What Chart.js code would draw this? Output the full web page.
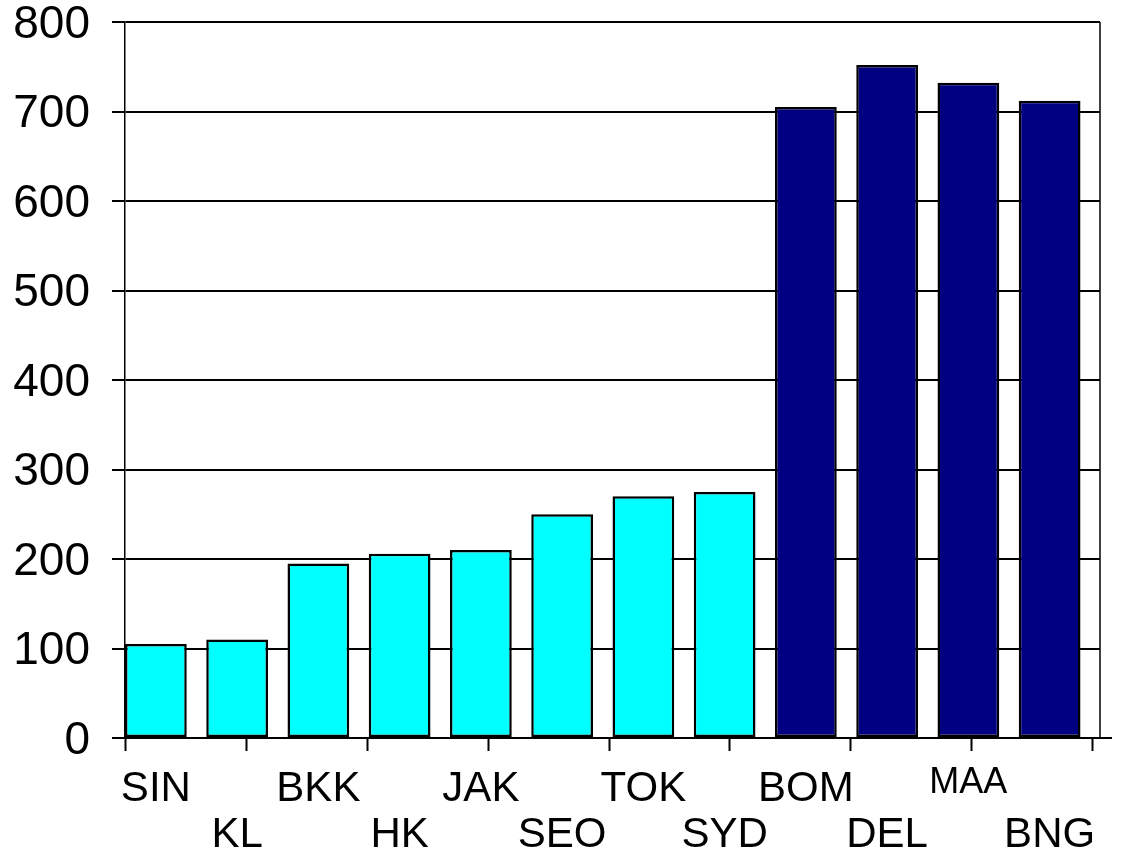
<!DOCTYPE html>
<html>
<head>
<meta charset="utf-8">
<script src="https://cdn.jsdelivr.net/npm/chart.js@4"></script>
<style>
  html, body { margin: 0; padding: 0; background: #fff; }
  #wrap { width: 1130px; height: 852px; }
</style>
</head>
<body>
<div id="wrap"><canvas id="cities-chart"></canvas></div>
<script>
const cities = ['SIN', 'KL', 'BKK', 'HK', 'JAK', 'SEO', 'TOK', 'SYD', 'BOM', 'DEL', 'MAA', 'BNG'];
const values = [105, 110, 195, 206, 210, 250, 270, 275, 705, 752, 732, 712];
const groups = ['asia', 'asia', 'asia', 'asia', 'asia', 'asia', 'asia', 'asia', 'india', 'india', 'india', 'india'];
const yTicks = [0, 100, 200, 300, 400, 500, 600, 700, 800];

const groupColor = { asia: '#00FFFF', india: '#000080' };

// labels alternate between two rows
const rowLabel = (i) => (i % 2 === 0 ? [cities[i], ''] : ['', cities[i]]);

// extra axis marks: baseline overhang, right frame line, bottom tick marks
const framePlugin = {
  id: 'frame',
  afterDraw(chart) {
    const { ctx, chartArea } = chart;
    const { left, right, top, bottom } = chartArea;
    ctx.save();
    ctx.strokeStyle = '#000';
    ctx.lineWidth = 1.5;
    ctx.beginPath();
    ctx.moveTo(right, top);
    ctx.lineTo(right, bottom);
    ctx.stroke();
    ctx.lineWidth = 2;
    ctx.beginPath();
    ctx.moveTo(left - 13, bottom);
    ctx.lineTo(right + 12, bottom);
    ctx.stroke();
    const n = 8;
    const step = (right - 8 - left) / n;
    for (let k = 0; k <= n; k++) {
      const x = Math.round(left + k * step) + 0.5;
      ctx.beginPath();
      ctx.moveTo(x, bottom);
      ctx.lineTo(x, bottom + 13);
      ctx.stroke();
    }
    ctx.restore();
  }
};

const ctx = document.getElementById('cities-chart');
new Chart(ctx, {
  type: 'bar',
  data: {
    datasets: [
      {
        data: values.map((v, i) => ({ x: i, y: v })),
        backgroundColor: groups.map((g) => groupColor[g]),
        borderColor: '#000',
        borderWidth: 2.5,
        borderSkipped: false,
        barPercentage: 0.76,
        categoryPercentage: 1.0,
      },
    ],
  },
  options: {
    responsive: true,
    maintainAspectRatio: false,
    animation: false,
    devicePixelRatio: 1,
    layout: { padding: { top: 22, right: 30, left: 0, bottom: 0 } },
    plugins: {
      legend: { display: false },
      tooltip: { enabled: false },
    },
    scales: {
      x: {
        type: 'linear',
        offset: false,
        min: -0.38,
        max: 11.62,
        grid: { display: false, offset: false },
        border: { display: false },
        afterBuildTicks: (scale) => { scale.ticks = cities.map((c, i) => ({ value: i })); },
        afterFit: (scale) => {
          scale.height = 114;
          scale.paddingLeft = 0;
          scale.paddingRight = 0;
        },
        ticks: {
          color: '#000',
          maxRotation: 0,
          autoSkip: false,
          padding: 20,
          callback: (value) => rowLabel(value),
          font: (c) => (c.index === 10
            ? { family: '"Liberation Sans", Arial, sans-serif', size: 36, lineHeight: '35px' }
            : { family: '"Liberation Sans", Arial, sans-serif', size: 42, lineHeight: '46px' }),
        },
      },
      y: {
        min: 0,
        max: 800,
        afterBuildTicks: (scale) => { scale.ticks = yTicks.map((v) => ({ value: v })); },
        afterFit: (scale) => {
          scale.width = 125;
          scale.paddingTop = 0;
          scale.paddingBottom = 0;
        },
        grid: { color: '#000', lineWidth: 2, tickLength: 13 },
        border: { display: true, color: '#000', width: 1.5 },
        ticks: {
          color: '#000',
          padding: 22,
          labelOffset: 3,
          font: { family: '"Liberation Sans", Arial, sans-serif', size: 46 },
        },
      },
    },
  },
  plugins: [framePlugin],
});
</script>
</body>
</html>
